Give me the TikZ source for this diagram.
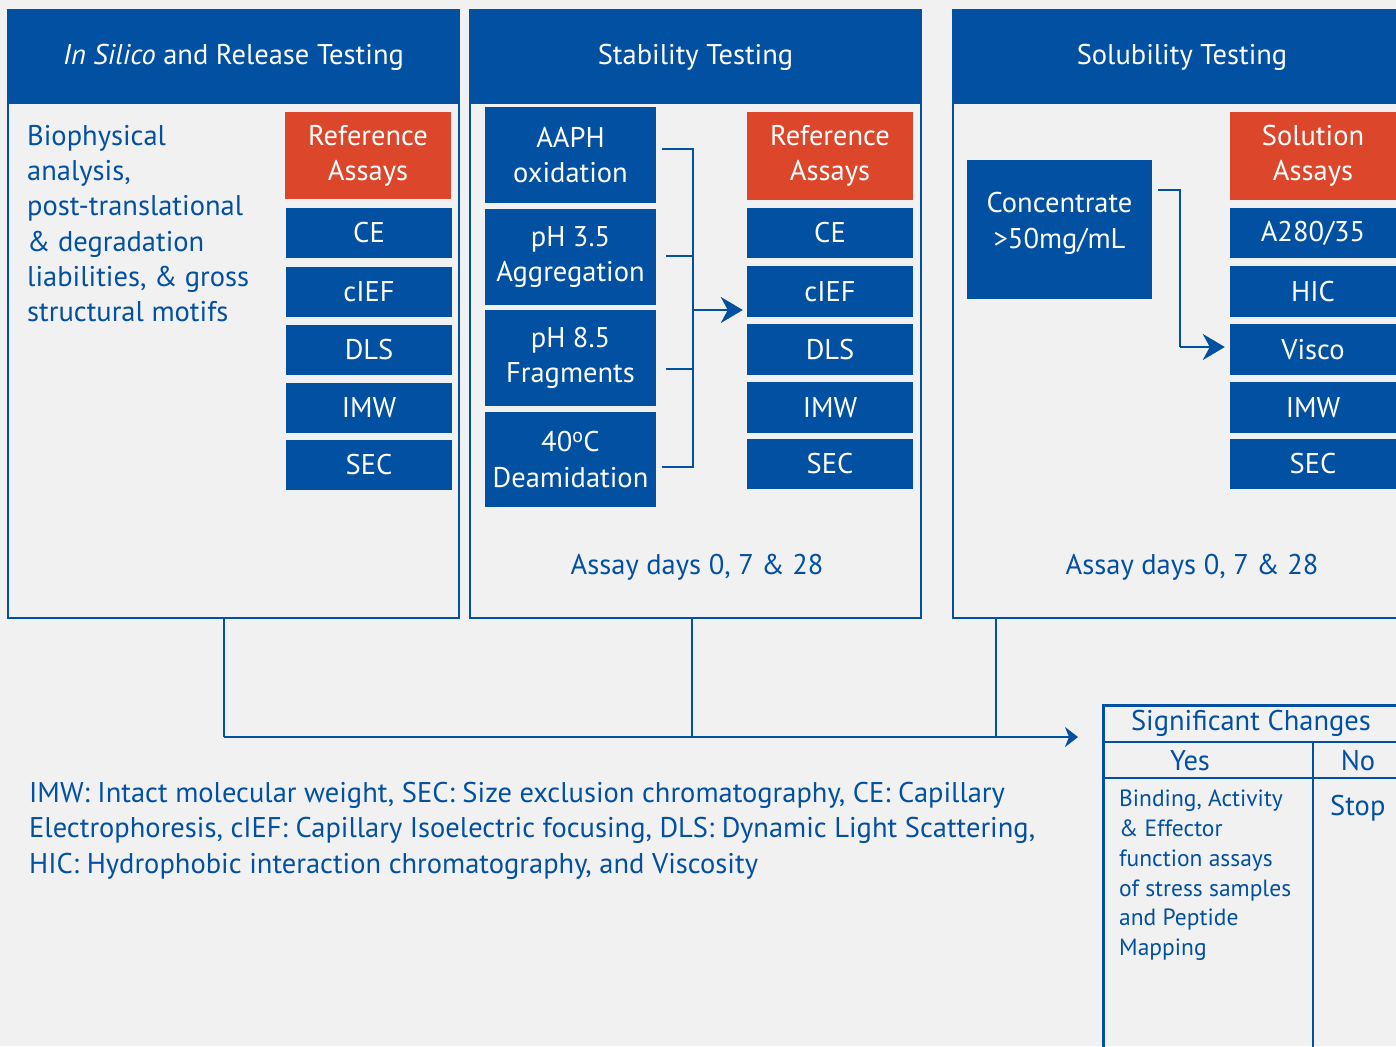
\documentclass[tikz,border=0pt]{standalone}
\usepackage{fontspec}
\setmainfont{PT Sans}
\usetikzlibrary{arrows.meta,calc}
\definecolor{bblue}{HTML}{0250A2}
\definecolor{rorange}{HTML}{DC462B}
\definecolor{bg}{HTML}{F1F1F1}
\newcommand{\mainsize}{\fontsize{28.5}{35.3}\selectfont}
\newcommand{\notesize}{\fontsize{23.5}{29.7}\selectfont}
\tikzset{
  panel/.style={draw=bblue, line width=2.5pt, inner sep=0pt},
  header/.style={fill=bblue, text=white, inner sep=0pt, font=\mainsize},
  bluebox/.style={fill=bblue, text=white, inner sep=0pt, align=center, font=\mainsize},
  redbox/.style={fill=rorange, text=white, inner sep=0pt, align=center, font=\mainsize},
  bluetext/.style={text=bblue, inner sep=0pt, font=\mainsize},
  conn/.style={draw=bblue, line width=2.5pt},
  bigtip/.style={-{Stealth[length=22pt,width=26pt,inset=7pt]}},
  smalltip/.style={-{Stealth[length=13pt,width=20pt,inset=4pt]}},
}
\begin{document}
\begin{tikzpicture}[x=1pt,y=-1pt]
\useasboundingbox (0,0) rectangle (1396,1046);
\fill[bg] (0,0) rectangle (1396,1046);

% ---------- In silico and release testing ----------
\node[panel, minimum width=451pt, minimum height=608pt] (p1) at (233.5,314) {};
\node[header, minimum width=451pt, minimum height=94pt] (h1) at (233.5,57) {\textit{In Silico} and Release Testing};
\node[bluetext, anchor=north west, align=left] (bio) at (27,125)
  {Biophysical\\analysis,\\post-translational\\\& degradation\\liabilities, \& gross\\structural motifs};
\node[redbox, minimum width=166pt, minimum height=87pt] (ref1) at (368,155.5) {Reference\\Assays};
\node[bluebox, minimum width=166pt, minimum height=50pt] (ce1)   at (369,233)   {CE};
\node[bluebox, minimum width=166pt, minimum height=50pt] (cief1) at (369,291.5) {cIEF};
\node[bluebox, minimum width=166pt, minimum height=50pt] (dls1)  at (369,349.5) {DLS};
\node[bluebox, minimum width=166pt, minimum height=50pt] (imw1)  at (369,407.5) {IMW};
\node[bluebox, minimum width=166pt, minimum height=50pt] (sec1)  at (369,465)   {SEC};

% ---------- Stability testing ----------
\node[panel, minimum width=451pt, minimum height=608pt] (p2) at (695.5,314) {};
\node[header, minimum width=451pt, minimum height=94pt] (h2) at (695.5,57) {Stability Testing};
\node[bluebox, minimum width=171pt, minimum height=96pt] (aaph) at (570.5,155)   {AAPH\\oxidation};
\node[bluebox, minimum width=171pt, minimum height=96pt] (agg)  at (570.5,257)   {pH 3.5\\Aggregation};
\node[bluebox, minimum width=171pt, minimum height=96pt] (frag) at (570.5,358)   {pH 8.5\\Fragments};
\node[bluebox, minimum width=171pt, minimum height=95pt] (deam) at (570.5,459.5) {40\textsuperscript{o}C\\Deamidation};
\node[redbox, minimum width=166pt, minimum height=88pt] (ref2) at (830,156) {Reference\\Assays};
\node[bluebox, minimum width=166pt, minimum height=50pt] (ce2)   at (830,233)   {CE};
\node[bluebox, minimum width=166pt, minimum height=51pt] (cief2) at (830,291.5) {cIEF};
\node[bluebox, minimum width=166pt, minimum height=51pt] (dls2)  at (830,349.5) {DLS};
\node[bluebox, minimum width=166pt, minimum height=51pt] (imw2)  at (830,407.5) {IMW};
\node[bluebox, minimum width=166pt, minimum height=50pt] (sec2)  at (830,464)   {SEC};
\node[bluetext] (days2) at (697,567) {Assay days 0, 7 \& 28};

% stress conditions gathered into one bracket feeding the assays
\coordinate (bx) at (693,310);
\draw[conn] ($(aaph.east)+(6,-6)$) -| (bx);
\draw[conn] ($(deam.east)+(6,7.5)$) -| (bx);
\draw[conn] ($(agg.east)+(10,-1)$) -- ($(agg.east)+(37,-1)$);
\draw[conn] ($(frag.east)+(10,11)$) -- ($(frag.east)+(37,11)$);
\draw[conn, bigtip] (bx) -- ($(cief2.west)+(-4,18.5)$);

% ---------- Solubility testing ----------
\node[panel, minimum width=458pt, minimum height=608pt] (p3) at (1182,314) {};
\node[header, minimum width=458pt, minimum height=94pt] (h3) at (1182,57) {Solubility Testing};
\node[fill=bblue, inner sep=0pt, minimum width=185pt, minimum height=139pt] (conc) at (1059.5,229.5) {};
\node[text=white, inner sep=0pt, align=center, font=\mainsize] (conctxt) at ($(conc.center)+(0,-6)$) {Concentrate\\>50mg/mL};
\node[redbox, minimum width=166pt, minimum height=88pt] (sol) at (1313,156) {Solution\\Assays};
\node[bluebox, minimum width=166pt, minimum height=50pt] (a280)  at (1313,233)   {A280/35};
\node[bluebox, minimum width=166pt, minimum height=51pt] (hic)   at (1313,291.5) {HIC};
\node[bluebox, minimum width=166pt, minimum height=51pt] (visco) at (1313,349.5) {Visco};
\node[bluebox, minimum width=166pt, minimum height=51pt] (imw3)  at (1313,407.5) {IMW};
\node[bluebox, minimum width=166pt, minimum height=50pt] (sec3)  at (1313,464)   {SEC};
\node[bluetext] (days3) at (1192,567) {Assay days 0, 7 \& 28};
\coordinate (cx) at (1180,347);
\draw[conn] ($(conc.east)+(6,-39.5)$) -| (cx);
\draw[conn, bigtip] (cx) -- ($(visco.west)+(-5,-2.5)$);

% ---------- outcome table ----------
\node[panel, anchor=north west, minimum width=330pt, minimum height=370pt] (sig) at (1102,704) {};
\draw[conn] (1102,742) -- (1420,742);
\draw[conn] (1102,778) -- (1420,778);
\draw[conn] (1313,742) -- (1313,1060);
\node[bluetext] (sigtitle) at (1251,723) {Significant Changes};
\node[bluetext] (yes) at (1190,761) {Yes};
\node[bluetext] (no) at (1358,761) {No};
\node[bluetext, anchor=north west] (stop) at (1330,795) {Stop};
\node[text=bblue, inner sep=0pt, font=\notesize, anchor=north west, align=left] (yestxt) at (1119,790)
  {Binding, Activity\\\& Effector\\function assays\\of stress samples\\and Peptide\\Mapping};

% results of all three panels collected into the table
\coordinate (jl) at (224,737);
\coordinate (tip) at ($(sig.north west)+(-24,33)$);
\draw[conn] (p1.south -| jl) -- (jl);
\draw[conn] (p2.south -| 692,0) -- (692,737);
\draw[conn] (p3.south -| 996,0) -- (996,737);
\draw[conn, smalltip] (jl) -- (tip);

% ---------- abbreviations ----------
\node[bluetext, anchor=north west, align=left] (abbr) at (29,782)
  {IMW: Intact molecular weight, SEC: Size exclusion chromatography, CE: Capillary\\
   Electrophoresis, cIEF: Capillary Isoelectric focusing, DLS: Dynamic Light Scattering,\\
   HIC: Hydrophobic interaction chromatography, and Viscosity};
\end{tikzpicture}
\end{document}
